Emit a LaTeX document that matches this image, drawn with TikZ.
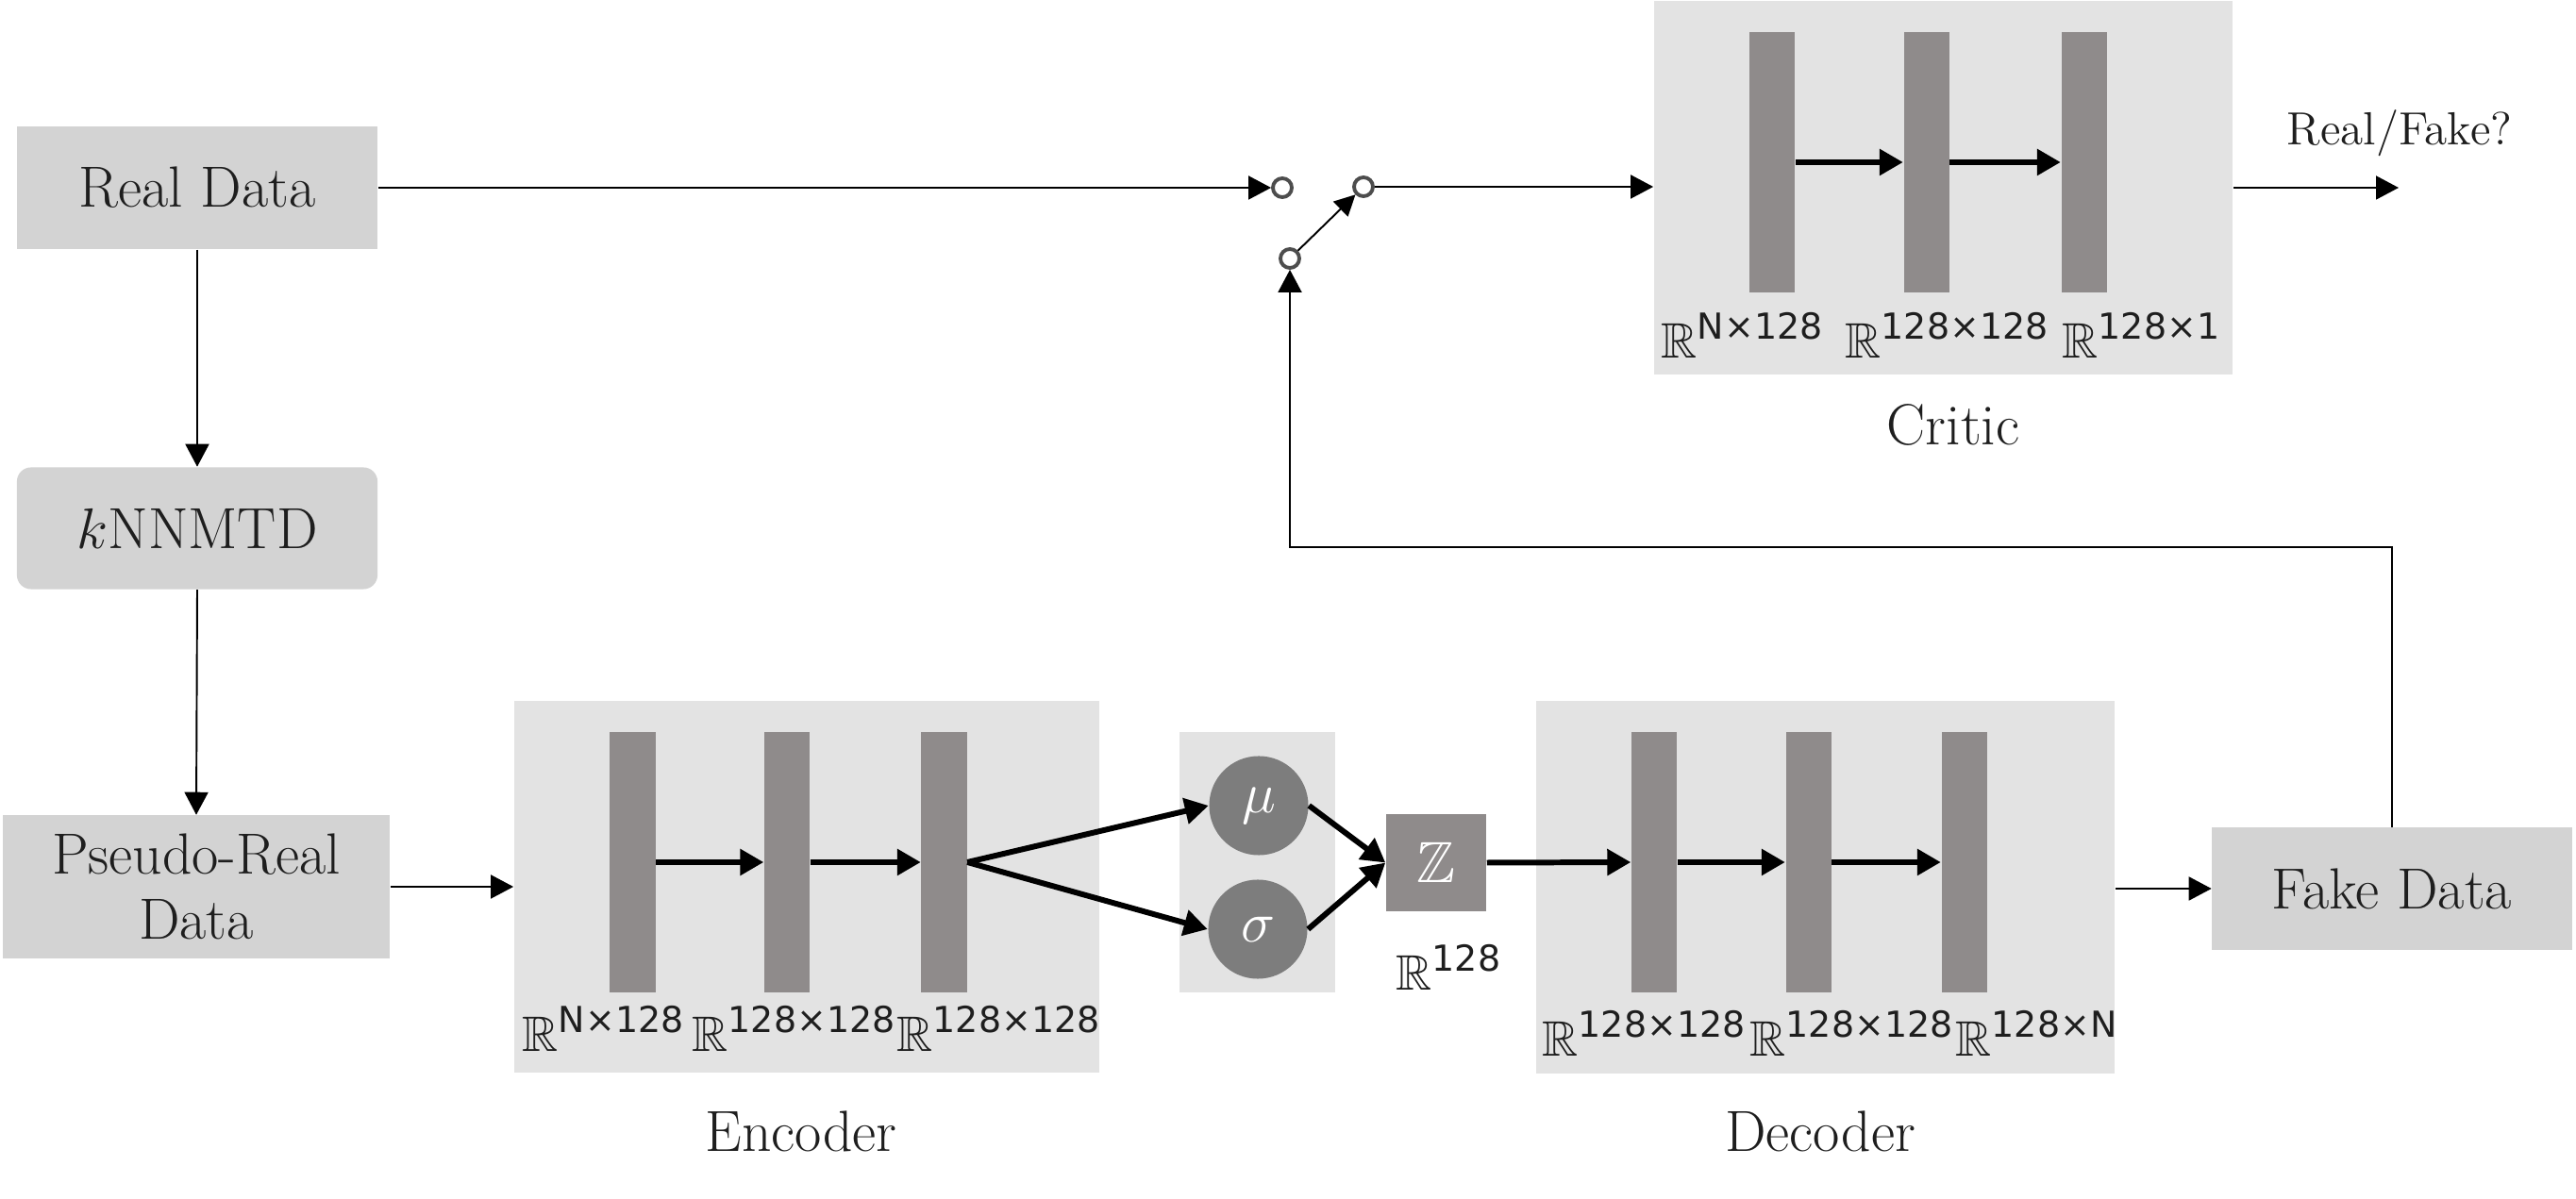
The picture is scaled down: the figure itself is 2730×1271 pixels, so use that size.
\documentclass[tikz,border=0pt]{standalone}
\usepackage{amssymb}
\usepackage{fontspec}
\newfontfamily\dejavu{DejaVu Sans}
\usetikzlibrary{arrows.meta}
\definecolor{boxgray}{RGB}{211,211,211}
\definecolor{panelgray}{RGB}{227,227,227}
\definecolor{bargray}{RGB}{143,139,139}
\definecolor{circgray}{RGB}{125,125,125}
\definecolor{txt}{RGB}{30,30,30}
\definecolor{swgray}{RGB}{77,77,77}
\newcommand\bigtxt{\fontsize{17.5}{19.6}\selectfont}
\newcommand\dimlab[1]{{\fontsize{15}{15}\selectfont$\mathbb{R}$}\raisebox{5.7pt}{\fontsize{10.8}{10.8}\selectfont\dejavu #1}}
\tikzset{
  databox/.style={fill=boxgray, inner sep=0, align=center, font=\bigtxt, text=txt},
  panel/.style={fill=panelgray, inner sep=0},
  bar/.style={fill=bargray, inner sep=0, minimum width=0.48cm, minimum height=2.76cm},
  thinarrow/.style={line width=0.55pt, -{Triangle[length=0.24cm,width=0.25cm]}},
  thickarrow/.style={line width=1.7pt, -{Triangle[length=0.25cm,width=0.27cm]}},
  swcirc/.style={circle, draw=swgray, line width=1.1pt, inner sep=0, minimum size=0.2cm, fill=white},
  dimlabel/.style={anchor=base west, inner sep=0, text=txt},
  titlelabel/.style={font=\bigtxt, text=txt, inner sep=0},
}
\begin{document}
\begin{tikzpicture}[x=0.01cm, y=-0.01cm]
\useasboundingbox (0,0) rectangle (2730,1271);

% data boxes
\node[databox, minimum width=3.82cm, minimum height=1.30cm] (real) at (209,199) {Real Data};
\node[databox, rounded corners=0.15cm, minimum width=3.82cm, minimum height=1.29cm] (knn) at (209,560) {$k$NNMTD};
\node[databox, minimum width=4.10cm, minimum height=1.51cm] (pseudo) at (208,940) {Pseudo-Real\\Data};
\node[databox, minimum width=3.81cm, minimum height=1.29cm] (fake) at (2535,942) {Fake Data};

% panels
\node[panel, minimum width=6.20cm, minimum height=3.94cm] (enc) at (855,940) {};
\node[panel, minimum width=6.13cm, minimum height=3.95cm] (dec) at (1934.5,940.5) {};
\node[panel, minimum width=6.13cm, minimum height=3.96cm] (crit) at (2059.5,199) {};
\node[panel, minimum width=1.65cm, minimum height=2.76cm] (lat) at (1332.5,914) {};

% bars
\node[bar] (e1) at (670.5,914) {};
\node[bar] (e2) at (834,914) {};
\node[bar] (e3) at (1000.5,914) {};
\node[bar] (d1) at (1753,914) {};
\node[bar] (d2) at (1916.5,914) {};
\node[bar] (d3) at (2081.5,914) {};
\node[bar] (c1) at (1878,172) {};
\node[bar] (c2) at (2041.5,172) {};
\node[bar] (c3) at (2208.5,172) {};

% latent
\node[circle, fill=circgray, minimum size=1.05cm, inner sep=0, text=white] (mu) at (1334,854) {\bigtxt$\mu$};
\node[circle, fill=circgray, minimum size=1.05cm, inner sep=0, text=white] (sigma) at (1333,985) {\bigtxt$\sigma$};
\node[fill=bargray, minimum width=1.06cm, minimum height=1.03cm, inner sep=0, text=white] (z) at (1522,914.5) {\bigtxt$\mathbb{Z}$};

% switch
\node[swcirc] (sw1) at (1359,199) {};
\node[swcirc] (sw2) at (1445,198) {};
\node[swcirc] (sw3) at (1367,274) {};
\coordinate (fb) at (1367,580);
\coordinate (out) at (2542,199);

% dimension labels
\node[dimlabel] at (553,1115) {\dimlab{N×128}};
\node[dimlabel] at (733,1115) {\dimlab{128×128}};
\node[dimlabel] at (950,1115) {\dimlab{128×128}};
\node[dimlabel] at (1634,1120) {\dimlab{128×128}};
\node[dimlabel] at (1854,1120) {\dimlab{128×128}};
\node[dimlabel] at (2072,1120) {\dimlab{128×N}};
\node[dimlabel] at (1760,380) {\dimlab{N×128}};
\node[dimlabel] at (1955,380) {\dimlab{128×128}};
\node[dimlabel] at (2185,380) {\dimlab{128×1}};
\node[dimlabel] at (1479,1050) {\dimlab{128}};

% titles
\node[titlelabel] (enct) at (849,1199) {Encoder};
\node[titlelabel] (dect) at (1929,1199) {Decoder};
\node[titlelabel] (critt) at (2070,450) {Critic};
\node[titlelabel, font=\fontsize{14}{16}\selectfont] (rf) at (2543,141) {Real/Fake?};

% connectors
\draw[thinarrow] (real.south) -- (knn.north);
\draw[thinarrow] (knn.south) -- (pseudo.north);
\draw[thinarrow] (pseudo.east) -- (enc.west |- pseudo.east);
\draw[thinarrow] (dec.east |- fake.west) -- (fake.west);
\draw[thinarrow] (real.east) -- (sw1.west);
\draw[line width=0.55pt, -{Triangle[length=0.22cm,width=0.22cm]}] (sw3) -- (sw2);
\draw[thinarrow] (sw2.east) -- (crit.west |- sw2.east);
\draw[thinarrow] (crit.east) -- (out);
\draw[thinarrow] (fake.north) |- (fb) -- (sw3.south);

\draw[thickarrow] (e1.east) -- (e2.west);
\draw[thickarrow] (e2.east) -- (e3.west);
\draw[thickarrow] (e3.east) -- (mu.west);
\draw[thickarrow] (e3.east) -- (sigma.west);
\draw[thickarrow] (mu.east) -- (z.west);
\draw[thickarrow] (sigma.east) -- (z.west);
\draw[thickarrow] (z.east) -- (d1.west);
\draw[thickarrow] (d1.east) -- (d2.west);
\draw[thickarrow] (d2.east) -- (d3.west);
\draw[thickarrow] (c1.east) -- (c2.west);
\draw[thickarrow] (c2.east) -- (c3.west);
\end{tikzpicture}
\end{document}
